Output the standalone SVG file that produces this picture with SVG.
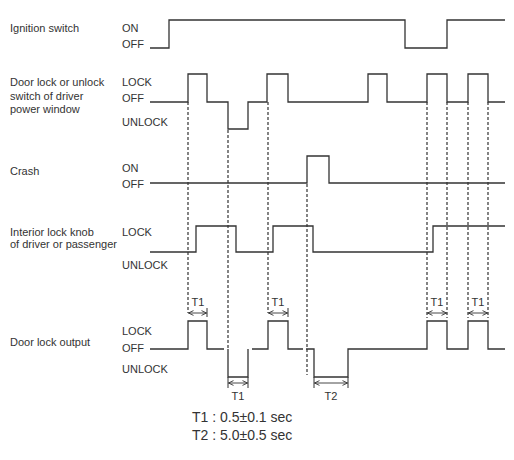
<svg xmlns="http://www.w3.org/2000/svg" width="514" height="460" viewBox="0 0 514 460">
<defs>
<style>
text{font-family:"Liberation Sans",Arial,sans-serif;font-size:11px;fill:#333}
.sig{fill:none;stroke:#333;stroke-width:1.3;stroke-linejoin:miter}
.dash{fill:none;stroke:#333;stroke-width:1.2;stroke-dasharray:3,2}
.tick{fill:none;stroke:#333;stroke-width:1}
.dim{fill:none;stroke:#333;stroke-width:0.9;marker-start:url(#ah);marker-end:url(#ah)}
.leg{font-size:14px}
</style>
<marker id="ah" viewBox="0 0 6 6" refX="5.5" refY="3" markerWidth="6" markerHeight="6" markerUnits="userSpaceOnUse" orient="auto-start-reverse">
<path d="M0.5,0.6 L5.5,3 L0.5,5.4" fill="none" stroke="#333" stroke-width="0.9"/>
</marker>
</defs>
<rect width="514" height="460" fill="#fff"/>

<g id="ignition">
<text x="10" y="32">Ignition switch</text>
<text x="122" y="32">ON</text>
<text x="122" y="48">OFF</text>
<path class="sig" d="M150 48 H169 V20 H405 V48 H447 V20 H505"/>
</g>

<g id="door-switch">
<text x="10" y="86">Door lock or unlock</text>
<text x="10" y="99.5">switch of driver</text>
<text x="10" y="113">power window</text>
<text x="122" y="86">LOCK</text>
<text x="122" y="102">OFF</text>
<text x="122" y="126">UNLOCK</text>
<path class="sig" d="M150 102 H188 V74 H207 V102 H228 V129 H248 V102 H267 V74 H288 V102 H368 V74 H387 V102 H427 V74 H447 V102 H468 V74 H488 V102 H505"/>
</g>

<g id="crash">
<text x="10" y="175">Crash</text>
<text x="122" y="172">ON</text>
<text x="122" y="188">OFF</text>
<path class="sig" d="M150 183 H307 V156 H329 V183 H505"/>
</g>

<g id="interior-knob">
<text x="10" y="236">Interior lock knob</text>
<text x="10" y="248">of driver or passenger</text>
<text x="122" y="236">LOCK</text>
<text x="122" y="269">UNLOCK</text>
<path class="sig" d="M150 252 H196 V226 H236 V252 H273 V226 H313 V252 H433 V226 H505"/>
</g>

<g id="door-output">
<text x="10" y="346">Door lock output</text>
<text x="122" y="335">LOCK</text>
<text x="122" y="352">OFF</text>
<text x="122" y="373">UNLOCK</text>
<path class="sig" d="M150 349 H188 V321 H207 V349 H224"/>
<path class="sig" d="M228 349 V377 H248 V349"/>
<path class="sig" d="M252 349 H268 V321 H288 V349 H303"/>
<path class="sig" d="M306 349 H314 V377 H348 V349 H427 V321 H447 V349 H468 V321 H488 V349 H505"/>
</g>

<g id="connectors">
<path class="dash" d="M188 102 V313 M228 130 V349 M268 102 V313 M307 184 V375 M427 102 V318 M447 102 V318 M468 102 V318 M488 102 V318"/>
<path class="tick" d="M207 308 V317 M288 308 V317 M228 377 V388 M248 377 V388 M314 377 V388 M348 377 V388"/>
<path class="dim" d="M188.5 313 H206.5"/>
<path class="dim" d="M268.5 313 H287.5"/>
<path class="dim" d="M427.5 313 H446.5"/>
<path class="dim" d="M468.5 313 H487.5"/>
<path class="dim" d="M228.5 383 H247.5"/>
<path class="dim" d="M314.5 383 H347.5"/>
</g>

<g id="dim-labels">
<text x="198" y="306" text-anchor="middle">T1</text>
<text x="278" y="306" text-anchor="middle">T1</text>
<text x="437" y="306" text-anchor="middle">T1</text>
<text x="478" y="306" text-anchor="middle">T1</text>
<text x="238" y="400" text-anchor="middle">T1</text>
<text x="331" y="400" text-anchor="middle">T2</text>
</g>

<g id="legend">
<text class="leg" x="192" y="422">T1 : 0.5±0.1 sec</text>
<text class="leg" x="192" y="440">T2 : 5.0±0.5 sec</text>
</g>
</svg>
